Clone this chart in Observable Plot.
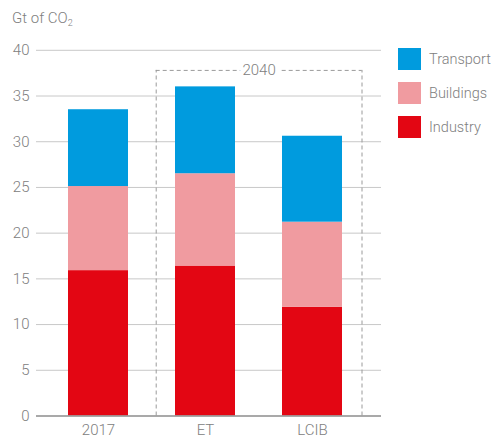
<!DOCTYPE html>
<html>
<head>
<meta charset="utf-8">
<script src="https://cdn.jsdelivr.net/npm/d3@7"></script>
<script src="https://cdn.jsdelivr.net/npm/@observablehq/plot@0.6"></script>
<style>
  html, body { margin: 0; padding: 0; background: #fff; }
  #wrap { position: relative; width: 491px; height: 439px; font-family: Roboto, "Helvetica Neue", sans-serif; font-weight: 300; color: #808080; }
  #title { height: 36px; box-sizing: border-box; padding: 11px 0 0 12px; font-size: 15px; line-height: 15px; }
  #title sub { font-size: 9px; vertical-align: -3px; line-height: 0; }
  #chart svg { display: block; }
  #legend { position: absolute; left: 398px; top: 48px; font-size: 14.5px; }
  .item { display: flex; align-items: center; height: 22px; margin-bottom: 12px; white-space: nowrap; }
  .swatch { width: 23px; height: 22px; margin-right: 8px; }
</style>
</head>
<body>
<div id="wrap">
  <div id="title">Gt of CO<sub>2</sub></div>
  <div id="chart"></div>
  <div id="legend"></div>
</div>
<script>
// Emissions by sector, Gt of CO2
const categories = ["2017", "ET", "LCIB"];
const industry = [15.9, 16.4, 11.9];
const buildings = [9.2, 10.1, 9.3];
const transport = [8.4, 9.5, 9.4];

const sectors = ["Industry", "Buildings", "Transport"];
const sectorColors = ["#e30613", "#f09ba0", "#009bde"];
const legendOrder = ["Transport", "Buildings", "Industry"];
const yTicks = [0, 5, 10, 15, 20, 25, 30, 35, 40];

// 2040 scenario group bracket
const groupLabel = "2040";
const groupStart = "ET";
const groupEnd = "LCIB";
const groupTop = 37.8;

const series = {Industry: industry, Buildings: buildings, Transport: transport};
const rows = [];
categories.forEach((c, i) => {
  for (const s of sectors) rows.push({category: c, sector: s, value: series[s][i]});
});

const chart = Plot.plot({
  width: 491,
  height: 403,
  marginTop: 13.8,
  marginBottom: 23.5,
  marginLeft: 36,
  marginRight: 110,
  style: {fontFamily: "Roboto, 'Helvetica Neue', sans-serif", fontSize: "15px", fontWeight: 300, color: "#808080", background: "transparent"},
  x: {type: "band", domain: categories, range: [67.7, 341.3], paddingInner: 0.443, paddingOuter: 0, align: 0,
      label: null, tickSize: 0, tickPadding: 8.5},
  y: {domain: [0, 40], ticks: yTicks, label: null, tickSize: 0, tickPadding: 7},
  color: {domain: sectors, range: sectorColors},
  marks: [
    Plot.ruleY(yTicks.filter(d => d > 0), {stroke: "#c8c8c8", strokeWidth: 1}),
    Plot.barY(rows, Plot.stackY({order: sectors}, {x: "category", y: "value", fill: "sector"})),
    Plot.ruleY([0], {stroke: "#8c8c8c", strokeWidth: 1.5}),
    // dashed bracket around the 2040 scenarios
    Plot.ruleX([groupStart], {x: d => d, y1: 0, y2: groupTop, dx: -49.3, stroke: "#9a9a9a", strokeDasharray: "4,3"}),
    Plot.ruleX([groupEnd], {x: d => d, y1: 0, y2: groupTop, dx: 49.5, stroke: "#9a9a9a", strokeDasharray: "4,3"}),
    Plot.ruleY([groupTop], {x1: () => groupStart, x2: () => groupEnd, y: d => d, insetLeft: -19.3, insetRight: -19.7,
      stroke: "#9a9a9a", strokeDasharray: "4,3"}),
    Plot.text([groupLabel], {x: () => groupStart, y: () => groupTop, dx: 53.6, text: d => d,
      fill: "#808080", stroke: "white", strokeWidth: 9, fontSize: 15})
  ]
});
document.getElementById("chart").appendChild(chart);

// legend
const legend = document.getElementById("legend");
for (const s of legendOrder) {
  const item = document.createElement("div");
  item.className = "item";
  const sw = document.createElement("div");
  sw.className = "swatch";
  sw.style.background = sectorColors[sectors.indexOf(s)];
  const label = document.createElement("span");
  label.textContent = s;
  item.appendChild(sw);
  item.appendChild(label);
  legend.appendChild(item);
}
</script>
</body>
</html>
